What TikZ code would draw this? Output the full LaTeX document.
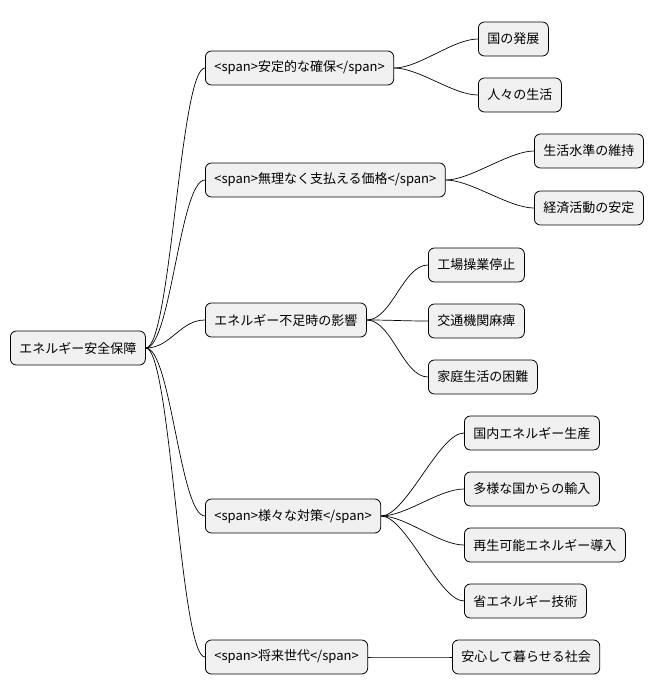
\documentclass[tikz,border=0pt]{standalone}
\usepackage{fontspec}
\setmainfont{Noto Sans CJK JP}
\begin{document}
\begin{tikzpicture}[x=1pt,y=-1pt,
  box/.style={draw=black,line width=0.8pt,fill=black!6,rounded corners=6pt,anchor=west,inner xsep=9pt,minimum height=34pt,font=\fontsize{13}{15}\selectfont},
  con/.style={draw=black,line width=0.7pt}]
\useasboundingbox (0,0) rectangle (663,696);
\node[box] (r) at (10,348) {エネルギー安全保障};
\node[box] (a) at (205,68) {<span>安定的な確保</span>};
\node[box] (a1) at (478,39) {国の発展};
\node[box] (a2) at (478,95) {人々の生活};
\node[box] (b) at (205,180) {<span>無理なく支払える価格</span>};
\node[box] (b1) at (534,151) {生活水準の維持};
\node[box] (b2) at (534,208) {経済活動の安定};
\node[box] (c) at (205,320) {エネルギー不足時の影響};
\node[box] (c1) at (428,265) {工場操業停止};
\node[box] (c2) at (428,321) {交通機関麻痺};
\node[box] (c3) at (428,377) {家庭生活の困難};
\node[box] (d) at (205,516) {<span>様々な対策</span>};
\node[box] (d1) at (464,433) {国内エネルギー生産};
\node[box] (d2) at (464,489) {多様な国からの輸入};
\node[box] (d3) at (464,545) {再生可能エネルギー導入};
\node[box] (d4) at (464,601) {省エネルギー技術};
\node[box] (e) at (205,657) {<span>将来世代</span>};
\node[box] (e1) at (452,657) {安心して暮らせる社会};
\foreach \p/\c in {r/a,r/b,r/c,r/d,r/e,a/a1,a/a2,b/b1,b/b2,c/c1,c/c2,c/c3,d/d1,d/d2,d/d3,d/d4,e/e1}
  \draw[con] (\p.east) .. controls ([xshift=25pt]\p.east) and ([xshift=-25pt]\c.west) .. (\c.west);
\end{tikzpicture}
\end{document}
